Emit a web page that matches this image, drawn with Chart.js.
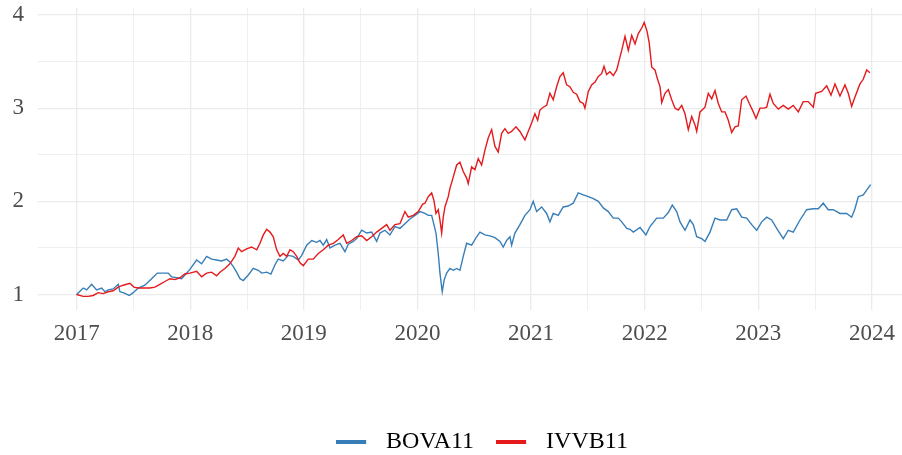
<!DOCTYPE html>
<html>
<head>
<meta charset="utf-8">
<script src="https://cdn.jsdelivr.net/npm/chart.js"></script>
<style>
  html, body { margin: 0; padding: 0; background: #ffffff; }
  #wrap { width: 902px; height: 455px; }
</style>
</head>
<body>
<div id="wrap"><canvas id="chart" width="902" height="455"></canvas></div>
<script>
const seriesNames = ['BOVA11', 'IVVB11'];
const xTicks = [2017, 2017.5, 2018, 2018.5, 2019, 2019.5, 2020, 2020.5, 2021, 2021.5, 2022, 2022.5, 2023, 2023.5, 2024];
const yTicks = [1, 1.5, 2, 2.5, 3, 3.5, 4];

const bovaDates = [
    2017.000, 2017.058, 2017.088, 2017.132, 2017.176, 2017.220, 2017.249, 2017.278, 2017.322, 2017.366,
    2017.381, 2017.410, 2017.463, 2017.498, 2017.542, 2017.601, 2017.660, 2017.710, 2017.762, 2017.806,
    2017.836, 2017.880, 2017.924, 2017.953, 2017.997, 2018.056, 2018.100, 2018.144, 2018.188, 2018.232,
    2018.276, 2018.320, 2018.349, 2018.379, 2018.408, 2018.438, 2018.467, 2018.511, 2018.555, 2018.599,
    2018.629, 2018.673, 2018.710, 2018.746, 2018.775, 2018.819, 2018.863, 2018.907, 2018.951, 2018.981,
    2019.025, 2019.069, 2019.113, 2019.142, 2019.171, 2019.201, 2019.230, 2019.274, 2019.318, 2019.362,
    2019.391, 2019.435, 2019.465, 2019.509, 2019.553, 2019.597, 2019.641, 2019.670, 2019.714, 2019.758,
    2019.802, 2019.846, 2019.890, 2019.934, 2019.978, 2020.022, 2020.066, 2020.095, 2020.125, 2020.145,
    2020.163, 2020.183, 2020.198, 2020.218, 2020.236, 2020.257, 2020.286, 2020.315, 2020.345, 2020.374,
    2020.403, 2020.433, 2020.477, 2020.521, 2020.550, 2020.594, 2020.638, 2020.682, 2020.726, 2020.755,
    2020.785, 2020.814, 2020.829, 2020.858, 2020.902, 2020.946, 2020.990, 2021.019, 2021.049, 2021.093,
    2021.137, 2021.166, 2021.195, 2021.239, 2021.283, 2021.327, 2021.371, 2021.415, 2021.460, 2021.504,
    2021.548, 2021.592, 2021.636, 2021.680, 2021.724, 2021.768, 2021.798, 2021.842, 2021.871, 2021.900,
    2021.959, 2022.011, 2022.047, 2022.106, 2022.164, 2022.208, 2022.243, 2022.282, 2022.311, 2022.355,
    2022.399, 2022.428, 2022.458, 2022.502, 2022.531, 2022.575, 2022.619, 2022.663, 2022.722, 2022.766,
    2022.810, 2022.854, 2022.898, 2022.942, 2022.986, 2023.030, 2023.074, 2023.118, 2023.162, 2023.220,
    2023.264, 2023.308, 2023.367, 2023.426, 2023.484, 2023.528, 2023.572, 2023.616, 2023.660, 2023.719,
    2023.778, 2023.822, 2023.851, 2023.880, 2023.924, 2023.954, 2023.989
];
const bovaValues = [
    1.00, 1.07, 1.05, 1.11, 1.05, 1.07, 1.03, 1.05, 1.06, 1.11,
    1.03, 1.02, 0.99, 1.02, 1.07, 1.10, 1.17, 1.23, 1.23, 1.23,
    1.19, 1.18, 1.17, 1.21, 1.27, 1.37, 1.33, 1.41, 1.38, 1.37,
    1.36, 1.38, 1.35, 1.30, 1.24, 1.17, 1.15, 1.21, 1.28, 1.26,
    1.23, 1.24, 1.22, 1.32, 1.38, 1.36, 1.42, 1.41, 1.37, 1.42,
    1.53, 1.58, 1.56, 1.58, 1.53, 1.59, 1.50, 1.53, 1.55, 1.46,
    1.54, 1.57, 1.60, 1.69, 1.66, 1.67, 1.57, 1.66, 1.69, 1.64,
    1.73, 1.71, 1.76, 1.81, 1.85, 1.89, 1.87, 1.85, 1.85, 1.75,
    1.66, 1.44, 1.23, 1.03, 1.16, 1.23, 1.28, 1.26, 1.28, 1.26,
    1.41, 1.55, 1.53, 1.62, 1.67, 1.64, 1.63, 1.61, 1.57, 1.51,
    1.58, 1.62, 1.53, 1.66, 1.75, 1.85, 1.91, 2.00, 1.89, 1.94,
    1.87, 1.78, 1.87, 1.85, 1.94, 1.95, 1.98, 2.09, 2.07, 2.05,
    2.03, 2.00, 1.93, 1.89, 1.82, 1.82, 1.78, 1.71, 1.70, 1.67,
    1.72, 1.64, 1.73, 1.82, 1.82, 1.88, 1.96, 1.89, 1.78, 1.69,
    1.80, 1.75, 1.62, 1.60, 1.57, 1.67, 1.82, 1.80, 1.80, 1.91,
    1.92, 1.83, 1.82, 1.75, 1.69, 1.78, 1.83, 1.80, 1.71, 1.60,
    1.69, 1.67, 1.80, 1.91, 1.92, 1.92, 1.98, 1.91, 1.91, 1.87,
    1.87, 1.83, 1.92, 2.05, 2.07, 2.12, 2.18
];

const ivvbDates = [
    2017.000, 2017.058, 2017.102, 2017.146, 2017.190, 2017.234, 2017.278, 2017.322, 2017.366, 2017.410,
    2017.469, 2017.504, 2017.542, 2017.586, 2017.645, 2017.689, 2017.733, 2017.777, 2017.821, 2017.865,
    2017.909, 2017.953, 2017.997, 2018.056, 2018.100, 2018.144, 2018.188, 2018.232, 2018.261, 2018.305,
    2018.349, 2018.393, 2018.423, 2018.452, 2018.496, 2018.540, 2018.585, 2018.614, 2018.643, 2018.673,
    2018.702, 2018.731, 2018.761, 2018.790, 2018.819, 2018.849, 2018.878, 2018.907, 2018.937, 2018.966,
    2018.995, 2019.039, 2019.083, 2019.127, 2019.171, 2019.215, 2019.259, 2019.303, 2019.347, 2019.377,
    2019.421, 2019.465, 2019.509, 2019.553, 2019.597, 2019.641, 2019.685, 2019.729, 2019.758, 2019.802,
    2019.846, 2019.890, 2019.919, 2019.963, 2020.007, 2020.046, 2020.066, 2020.095, 2020.125, 2020.145,
    2020.163, 2020.183, 2020.198, 2020.213, 2020.227, 2020.242, 2020.271, 2020.286, 2020.315, 2020.345,
    2020.374, 2020.403, 2020.433, 2020.447, 2020.477, 2020.506, 2020.535, 2020.565, 2020.594, 2020.623,
    2020.653, 2020.682, 2020.711, 2020.741, 2020.770, 2020.799, 2020.829, 2020.867, 2020.902, 2020.946,
    2020.975, 2021.005, 2021.034, 2021.058, 2021.078, 2021.107, 2021.137, 2021.166, 2021.195, 2021.225,
    2021.254, 2021.283, 2021.313, 2021.342, 2021.371, 2021.401, 2021.430, 2021.460, 2021.474, 2021.504,
    2021.533, 2021.563, 2021.592, 2021.621, 2021.642, 2021.665, 2021.694, 2021.724, 2021.754, 2021.783,
    2021.798, 2021.827, 2021.856, 2021.886, 2021.915, 2021.944, 2021.974, 2021.996, 2022.020, 2022.040,
    2022.062, 2022.091, 2022.111, 2022.135, 2022.150, 2022.179, 2022.208, 2022.238, 2022.267, 2022.296,
    2022.326, 2022.355, 2022.384, 2022.414, 2022.443, 2022.458, 2022.487, 2022.531, 2022.560, 2022.590,
    2022.619, 2022.648, 2022.678, 2022.707, 2022.736, 2022.766, 2022.795, 2022.824, 2022.854, 2022.892,
    2022.921, 2022.956, 2022.980, 2023.015, 2023.050, 2023.074, 2023.103, 2023.132, 2023.176, 2023.220,
    2023.264, 2023.308, 2023.352, 2023.396, 2023.440, 2023.484, 2023.505, 2023.558, 2023.602, 2023.640,
    2023.675, 2023.719, 2023.763, 2023.792, 2023.822, 2023.851, 2023.895, 2023.924, 2023.954, 2023.983
];
const ivvbValues = [
    1.00, 0.98, 0.98, 0.99, 1.02, 1.01, 1.03, 1.04, 1.08, 1.10,
    1.12, 1.08, 1.07, 1.07, 1.07, 1.08, 1.11, 1.14, 1.17, 1.16,
    1.18, 1.22, 1.23, 1.25, 1.19, 1.23, 1.24, 1.20, 1.24, 1.28,
    1.33, 1.41, 1.50, 1.46, 1.49, 1.51, 1.48, 1.55, 1.64, 1.70,
    1.67, 1.62, 1.48, 1.41, 1.44, 1.41, 1.48, 1.46, 1.41, 1.34,
    1.31, 1.38, 1.38, 1.44, 1.48, 1.53, 1.55, 1.59, 1.64, 1.55,
    1.58, 1.62, 1.63, 1.58, 1.62, 1.67, 1.71, 1.75, 1.69, 1.75,
    1.76, 1.89, 1.83, 1.85, 1.89, 1.97, 1.98, 2.05, 2.09, 2.01,
    1.87, 1.91, 1.80, 1.66, 1.83, 1.94, 2.05, 2.14, 2.26, 2.39,
    2.42, 2.32, 2.25, 2.19, 2.37, 2.34, 2.46, 2.39, 2.55, 2.68,
    2.77, 2.59, 2.53, 2.73, 2.78, 2.73, 2.75, 2.80, 2.75, 2.66,
    2.75, 2.84, 2.94, 2.87, 2.98, 3.01, 3.03, 3.16, 3.09, 3.23,
    3.34, 3.38, 3.25, 3.23, 3.17, 3.15, 3.07, 3.05, 3.00, 3.18,
    3.25, 3.28, 3.34, 3.37, 3.45, 3.36, 3.39, 3.35, 3.41, 3.55,
    3.62, 3.77, 3.62, 3.78, 3.69, 3.80, 3.86, 3.92, 3.83, 3.70,
    3.44, 3.41, 3.32, 3.23, 3.06, 3.16, 3.20, 3.09, 3.00, 2.98,
    3.03, 2.94, 2.77, 2.91, 2.82, 2.75, 2.96, 3.01, 3.16, 3.10,
    3.19, 3.05, 2.96, 2.96, 2.87, 2.74, 2.80, 2.81, 3.09, 3.13,
    3.05, 2.96, 2.89, 3.00, 3.00, 3.01, 3.15, 3.05, 2.99, 3.03,
    2.99, 3.03, 2.96, 3.07, 3.07, 3.01, 3.16, 3.18, 3.24, 3.14,
    3.26, 3.13, 3.25, 3.16, 3.02, 3.12, 3.26, 3.31, 3.41, 3.38
];

const seriesColors = ['#377eb8', '#e41a1c'];
const fontFamily = "'Liberation Serif', 'DejaVu Serif', serif";

function toPoints(dates, values) {
    return dates.map((d, i) => ({ x: d, y: values[i] }));
}

// legend key: a short thick line followed by some empty space
function legendKey(color) {
    const c = document.createElement('canvas');
    c.width = 38;
    c.height = 4;
    const g = c.getContext('2d');
    g.fillStyle = color;
    g.fillRect(0, 0, 30, 4);
    return c;
}

const gridColor = '#ebebeb';
const isWhole = v => Math.abs(v - Math.round(v)) < 1e-6;

// the legend sits a bit lower and to the right of the canvas centre
const legendShift = {
    id: 'legendShift',
    afterLayout(chart) {
        const lg = chart.legend;
        lg.left += 31;
        lg.right += 31;
        lg.top += 9;
        lg.bottom += 9;
    }
};

new Chart(document.getElementById('chart'), {
    type: 'line',
    data: {
        datasets: [
            {
                label: seriesNames[0],
                data: toPoints(bovaDates, bovaValues),
                borderColor: seriesColors[0],
                backgroundColor: seriesColors[0],
                borderWidth: 1.4,
                pointRadius: 0,
                order: 1
            },
            {
                label: seriesNames[1],
                data: toPoints(ivvbDates, ivvbValues),
                borderColor: seriesColors[1],
                backgroundColor: seriesColors[1],
                borderWidth: 1.4,
                pointRadius: 0,
                order: 0
            }
        ]
    },
    options: {
        responsive: false,
        animation: false,
        layout: { padding: { top: 8, right: 0, bottom: 0, left: 0 } },
        scales: {
            x: {
                type: 'linear',
                min: 2016.66,
                max: 2024.265,
                afterBuildTicks: scale => { scale.ticks = xTicks.map(v => ({ value: v })); },
                afterFit: scale => {
                    scale.height = 89;
                    scale.paddingLeft = 0;
                    scale.paddingRight = 0;
                },
                border: { display: false },
                grid: {
                    drawTicks: false,
                    color: gridColor,
                    lineWidth: ctx => (ctx.tick && isWhole(ctx.tick.value) ? 1.3 : 0.8)
                },
                ticks: {
                    autoSkip: false,
                    maxRotation: 0,
                    padding: 10,
                    color: '#4d4d4d',
                    font: { family: fontFamily, size: 23 },
                    callback: v => (isWhole(v) ? String(Math.round(v)) : '')
                }
            },
            y: {
                min: 0.834,
                max: 4.075,
                afterBuildTicks: scale => { scale.ticks = yTicks.map(v => ({ value: v })); },
                afterFit: scale => {
                    scale.width = 38;
                    scale.paddingTop = 0;
                    scale.paddingBottom = 0;
                },
                border: { display: false },
                grid: {
                    drawTicks: false,
                    color: gridColor,
                    lineWidth: ctx => (ctx.tick && isWhole(ctx.tick.value) ? 1.3 : 0.8)
                },
                ticks: {
                    padding: 14,
                    color: '#4d4d4d',
                    font: { family: fontFamily, size: 23 },
                    callback: v => (isWhole(v) ? String(Math.round(v)) : '')
                }
            }
        },
        plugins: {
            tooltip: { enabled: false },
            legend: {
                position: 'bottom',
                labels: {
                    usePointStyle: true,
                    pointStyleWidth: 38,
                    padding: 22,
                    color: '#000000',
                    font: { family: fontFamily, size: 24 },
                    sort: (a, b) => a.datasetIndex - b.datasetIndex,
                    generateLabels: chart => chart.data.datasets.map((ds, i) => ({
                        text: ds.label,
                        datasetIndex: i,
                        pointStyle: legendKey(seriesColors[i]),
                        fillStyle: seriesColors[i],
                        strokeStyle: seriesColors[i],
                        lineWidth: 0,
                        hidden: false
                    }))
                }
            }
        }
    },
    plugins: [legendShift]
});
</script>
</body>
</html>
